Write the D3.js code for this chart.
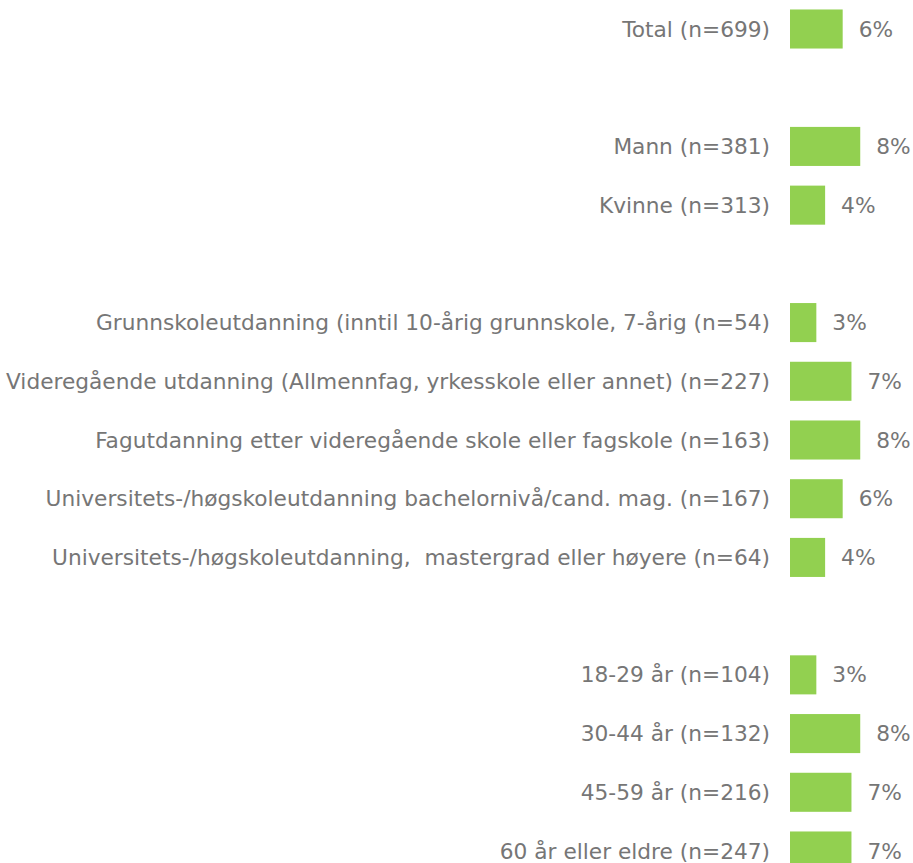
<!DOCTYPE html>
<html>
<head>
<meta charset="utf-8">
<script src="https://cdn.jsdelivr.net/npm/d3@7"></script>
<style>
  html, body { margin: 0; padding: 0; background: #fff; }
  svg text { font-family: "DejaVu Sans", Verdana, sans-serif; white-space: pre; }
</style>
</head>
<body>
<div id="chart"></div>
<script>
const categories = [
  "Total (n=699)",
  "",
  "Mann (n=381)",
  "Kvinne (n=313)",
  "",
  "Grunnskoleutdanning (inntil 10-årig grunnskole, 7-årig (n=54)",
  "Videregående utdanning (Allmennfag, yrkesskole eller annet) (n=227)",
  "Fagutdanning etter videregående skole eller fagskole (n=163)",
  "Universitets-/høgskoleutdanning bachelornivå/cand. mag. (n=167)",
  "Universitets-/høgskoleutdanning,  mastergrad eller høyere (n=64)",
  "",
  "18-29 år (n=104)",
  "30-44 år (n=132)",
  "45-59 år (n=216)",
  "60 år eller eldre (n=247)"
];
const values = [6.0, null, 8.0, 4.0, null, 3.0, 7.0, 8.0, 6.0, 4.0, null, 3.0, 8.0, 7.0, 7.0];
const valueLabels = ["6%", "", "8%", "4%", "", "3%", "7%", "8%", "6%", "4%", "", "3%", "8%", "7%", "7%"];

const W = 913, H = 863;
const svg = d3.select("#chart").append("svg").attr("width", W).attr("height", H);

const keys = categories.map((c, i) => i);
const step = (851 - 29) / 14;
const y = d3.scaleBand()
  .domain(keys)
  .range([29 - step / 2, 851 + step / 2])
  .paddingInner(0.335)
  .paddingOuter(0.1675);

const x = d3.scaleLinear().domain([0, 10]).range([790, 877.8]);

const rows = keys.map(i => ({ i, cat: categories[i], v: values[i], lab: valueLabels[i] }));

svg.selectAll("rect.bar")
  .data(rows.filter(d => d.v != null))
  .join("rect")
  .attr("class", "bar")
  .attr("x", x(0))
  .attr("y", d => y(d.i))
  .attr("width", d => x(d.v) - x(0))
  .attr("height", y.bandwidth())
  .attr("fill", "#92D050");

svg.selectAll("text.cat")
  .data(rows.filter(d => d.cat))
  .join("text")
  .attr("class", "cat")
  .attr("x", 770)
  .attr("y", d => y(d.i) + y.bandwidth() / 2)
  .attr("dy", "0.35em")
  .attr("text-anchor", "end")
  .attr("font-size", 21.7)
  .attr("fill", "#767676")
  .text(d => d.cat);

svg.selectAll("text.val")
  .data(rows.filter(d => d.v != null))
  .join("text")
  .attr("class", "val")
  .attr("x", d => x(d.v) + 16)
  .attr("y", d => y(d.i) + y.bandwidth() / 2)
  .attr("dy", "0.35em")
  .attr("font-size", 21.7)
  .attr("fill", "#767676")
  .text(d => d.lab);
</script>
</body>
</html>
